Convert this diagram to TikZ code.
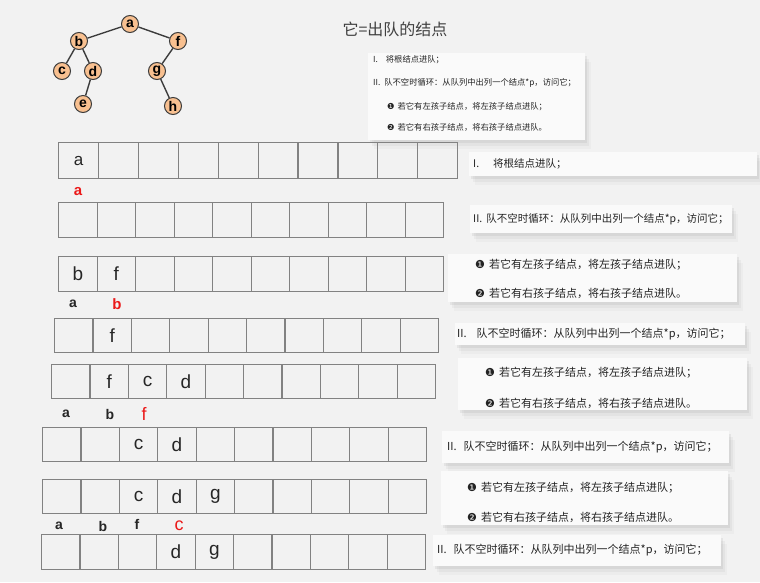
\documentclass[tikz,border=0pt]{standalone}
\usepackage{fontspec}
\setmainfont{Liberation Sans}
\newfontfamily\cjk{Noto Sans CJK SC}
\newfontfamily\dingfont{DejaVu Sans}
\usetikzlibrary{positioning,shadows}

\definecolor{bgc}{RGB}{242,242,242}
\definecolor{peach}{RGB}{248,192,144}
\definecolor{treeline}{RGB}{60,60,60}
\definecolor{cellc}{RGB}{130,130,130}
\definecolor{notec}{RGB}{250,250,250}
\definecolor{ink}{RGB}{35,35,35}
\definecolor{hitred}{RGB}{235,25,25}

\begin{document}
\begin{tikzpicture}[
  x=1pt,y=-1pt,
  tnode/.style={circle,draw=treeline,fill=peach,line width=1pt,minimum size=17pt,
                inner sep=0pt,font=\bfseries\fontsize{14}{14}\selectfont},
  tedge/.style={treeline,line width=1.4pt},
  cell/.style={draw=cellc,line width=1.2pt,minimum height=35pt,inner sep=0pt,
               anchor=north west},
  val/.style={font=\fontsize{19}{19}\selectfont,text=black!85},
  gone/.style={font=\bfseries\fontsize{14}{14}\selectfont,text=black!85},
  hit/.style={font=\bfseries\fontsize{15}{15}\selectfont,text=hitred},
  hitbig/.style={font=\fontsize{18}{18}\selectfont,text=hitred},
  note/.style={fill=notec,anchor=north west,inner sep=0pt,
               drop shadow={shadow xshift=2pt,shadow yshift=-3pt,opacity=.12},
               drop shadow={shadow xshift=4pt,shadow yshift=-6pt,opacity=.08},
               drop shadow={shadow xshift=6pt,shadow yshift=-9pt,opacity=.05}},
  ntext/.style={anchor=west,inner sep=0pt,text=ink,font=\cjk\fontsize{11}{11}\selectfont},
  nsmall/.style={ntext,font=\cjk\fontsize{10.5}{10.5}\selectfont},
  ntiny/.style={ntext,font=\cjk\fontsize{8.3}{8.3}\selectfont},
]
  \useasboundingbox (0,0) rectangle (760,582);
  \fill[bgc] (0,0) rectangle (760,582);

  % binary tree
  \node[tnode] (a) at (130,24) {a};
  \node[tnode] (b) at (79,41) {b};
  \node[tnode] (f) at (178,41) {f};
  \node[tnode] (c) at (62,71) {c};
  \node[tnode] (d) at (93,71) {d};
  \node[tnode] (g) at (157,71) {g};
  \node[tnode] (e) at (83,104) {e};
  \node[tnode] (h) at (173,106) {h};
  \draw[tedge] (a) -- (b);
  \draw[tedge] (a) -- (f);
  \draw[tedge] (b) -- (c);
  \draw[tedge] (b) -- (d);
  \draw[tedge] (d) -- (e);
  \draw[tedge] (f) -- (g);
  \draw[tedge] (g) -- (h);

  \node[anchor=west,font=\cjk\fontsize{16}{16}\selectfont,text=black!75] (title)
    at (339,29) {它=出队的结点};

  % algorithm summary
  \node[note,minimum width=217pt,minimum height=87pt] (steps) at (368,53) {};
  \node[ntiny] (s1) at (373,60) {I.\hspace{8pt}将根结点进队；};
  \node[ntiny] (s2) at (373,83) {II.\hspace{4pt}队不空时循环：从队列中出列一个结点*p，访问它；};
  \node[ntiny] (s3) at (387,107) {{\dingfont ❶}\hspace{3pt}若它有左孩子结点，将左孩子结点进队；};
  \node[ntiny] (s4) at (387,127) {{\dingfont ❷}\hspace{3pt}若它有右孩子结点，将右孩子结点进队。};

  % queue snapshots
  \foreach \i in {0,...,9}
    \node[cell,minimum width=39.9pt,minimum height=36pt] (r1c\i) at (58+\i*39.9,142) {};
  \foreach \i in {0,...,9}
    \node[cell,minimum width=38.5pt] (r2c\i) at (58+\i*38.5,202) {};
  \foreach \i in {0,...,9}
    \node[cell,minimum width=38.5pt] (r3c\i) at (58+\i*38.5,256) {};
  \foreach \i in {0,...,9}
    \node[cell,minimum width=38.4pt,minimum height=34pt] (r4c\i) at (54+\i*38.4,318) {};
  \foreach \i in {0,...,9}
    \node[cell,minimum width=38.4pt,minimum height=34pt] (r5c\i) at (51+\i*38.4,364) {};
  \foreach \i in {0,...,9}
    \node[cell,minimum width=38.4pt,minimum height=34pt] (r6c\i) at (42+\i*38.4,427) {};
  \foreach \i in {0,...,9}
    \node[cell,minimum width=38.4pt,minimum height=34pt] (r7c\i) at (42+\i*38.4,479) {};
  \foreach \i in {0,...,9}
    \node[cell,minimum width=38.4pt] (r8c\i) at (41+\i*38.4,534) {};

  \node[val,font=\fontsize{17}{17}\selectfont] (v1a) at (r1c0) {a};
  \node[val] (v3b) at (r3c0) {b};
  \node[val] (v3f) at (r3c1) {f};
  \node[val] (v4f) at (r4c1) {f};
  \node[val] (v5f) at (r5c1) {f};
  \node[val] (v5c) at (r5c2) {c};
  \node[val] (v5d) at (r5c3) {d};
  \node[val] (v6c) at (r6c2) {c};
  \node[val] (v6d) at (r6c3) {d};
  \node[val] (v7c) at (r7c2) {c};
  \node[val] (v7d) at (r7c3) {d};
  \node[val] (v7g) at (r7c4) {g};
  \node[val] (v8d) at (r8c3) {d};
  \node[val] (v8g) at (r8c4) {g};

  % dequeued nodes
  \node[hit] (o1a) at (78,192) {a};
  \node[gone] (o2a) at (73,304) {a};
  \node[hit] (o2b) at (117,304) {b};
  \node[gone] (o3a) at (66,414) {a};
  \node[gone] (o3b) at (110,414) {b};
  \node[hitbig] (o3f) at (144,414) {f};
  \node[gone] (o4a) at (59,526) {a};
  \node[gone] (o4b) at (103,526) {b};
  \node[gone] (o4f) at (137,524) {f};
  \node[hitbig] (o4c) at (179,526) {c};

  % step notes
  \node[note,minimum width=288pt,minimum height=24pt] (n1) at (469,152) {};
  \node[nsmall] (t1) at (473,164) {I.\hspace{14pt}将根结点进队；};
  \node[note,minimum width=262pt,minimum height=28pt] (n2) at (470,205) {};
  \node[nsmall] (t2) at (473,219) {II.\hspace{4pt}队不空时循环：从队列中出列一个结点*p，访问它；};
  \node[note,minimum width=289pt,minimum height=48pt] (n3) at (448,254) {};
  \node[ntext] (t3a) at (475,265) {{\dingfont ❶}\hspace{4pt}若它有左孩子结点，将左孩子结点进队；};
  \node[ntext] (t3b) at (475,293) {{\dingfont ❷}\hspace{4pt}若它有右孩子结点，将右孩子结点进队。};
  \node[note,minimum width=290pt,minimum height=22pt] (n4) at (455,323) {};
  \node[ntext] (t4) at (457,334) {II.\hspace{10pt}队不空时循环：从队列中出列一个结点*p，访问它；};
  \node[note,minimum width=289pt,minimum height=52pt] (n5) at (458,358) {};
  \node[ntext] (t5a) at (485,373) {{\dingfont ❶}\hspace{4pt}若它有左孩子结点，将左孩子结点进队；};
  \node[ntext] (t5b) at (485,403) {{\dingfont ❷}\hspace{4pt}若它有右孩子结点，将右孩子结点进队。};
  \node[note,minimum width=287pt,minimum height=32pt] (n6) at (442,431) {};
  \node[ntext] (t6) at (447,447) {II.\hspace{7pt}队不空时循环：从队列中出列一个结点*p，访问它；};
  \node[note,minimum width=287pt,minimum height=54pt] (n7) at (441,471) {};
  \node[ntext] (t7a) at (467,488) {{\dingfont ❶}\hspace{4pt}若它有左孩子结点，将左孩子结点进队；};
  \node[ntext] (t7b) at (467,517) {{\dingfont ❷}\hspace{4pt}若它有右孩子结点，将右孩子结点进队。};
  \node[note,minimum width=288pt,minimum height=31pt] (n8) at (433,535) {};
  \node[ntext] (t8) at (437,550) {II.\hspace{7pt}队不空时循环：从队列中出列一个结点*p，访问它；};
\end{tikzpicture}
\end{document}
